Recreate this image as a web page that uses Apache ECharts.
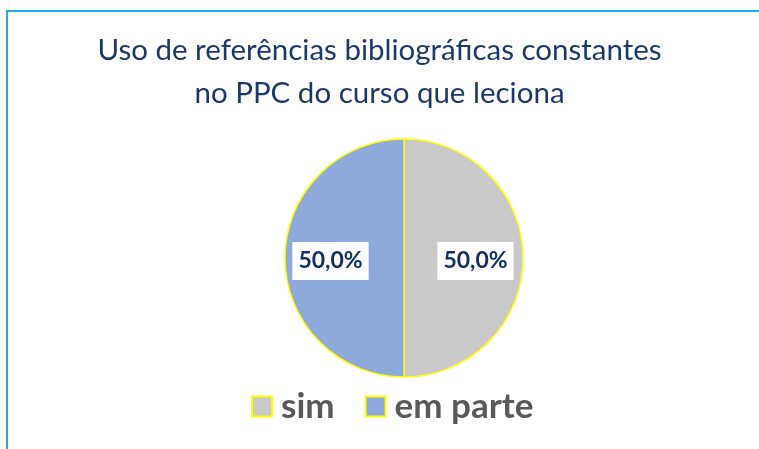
<!DOCTYPE html>
<html>
<head>
<meta charset="utf-8">
<script src="https://cdn.jsdelivr.net/npm/echarts@6/dist/echarts.min.js"></script>
<style>
  html, body { margin: 0; padding: 0; background: #fff; overflow: hidden; }
  #frame { position: absolute; left: 6px; top: 10px; width: 800px; height: 500px;
           border-left: 2px solid #1ab0f0; border-top: 2px solid #1ab0f0; }
  #chart { position: absolute; left: 0; top: 0; width: 759px; height: 449px; }
</style>
</head>
<body>
<div id="frame"></div>
<div id="chart"></div>
<script>
// Answers to the survey question
const categories = ['sim', 'em parte'];
const values = [50, 50];
const colors = ['#c9c9c9', '#8eaadc'];
const titleLines = ['Uso de referências bibliográficas constantes', 'no PPC do curso que leciona'];

const chart = echarts.init(document.getElementById('chart'));

const labelOffsets = [[9, 3], [-11, 3]];

chart.setOption({
  animation: false,
  title: {
    text: titleLines.join('\n'),
    left: 'center',
    top: 24,
    textStyle: {
      fontFamily: 'Lato',
      fontWeight: 'normal',
      fontSize: 29.5,
      lineHeight: 43,
      color: '#1b3a6b'
    }
  },
  legend: {
    data: categories,
    bottom: 20,
    left: 246,
    icon: 'rect',
    itemWidth: 20,
    itemHeight: 20,
    itemGap: 30,
    textStyle: {
      fontFamily: 'Lato',
      fontWeight: 'bold',
      fontSize: 35,
      color: '#595959',
      padding: [0, 0, 0, 4]
    }
  },
  series: [{
    type: 'pie',
    center: [404, 258],
    radius: 119,
    startAngle: 90,
    clockwise: true,
    data: categories.map((name, i) => ({
      name,
      value: values[i],
      itemStyle: { color: colors[i] },
      label: { offset: labelOffsets[i] }
    })),
    itemStyle: { borderColor: '#ffff00', borderWidth: 1.5 },
    label: {
      position: 'inside',
      formatter: p => p.percent.toFixed(1).replace('.', ',') + '%',
      backgroundColor: '#ffffff',
      padding: [8, 6, 7, 6],
      fontFamily: 'Lato',
      fontWeight: 'bold',
      fontSize: 23,
      color: '#132f66'
    },
    labelLine: { show: false },
    emphasis: { disabled: true }
  }]
});
</script>
</body>
</html>
